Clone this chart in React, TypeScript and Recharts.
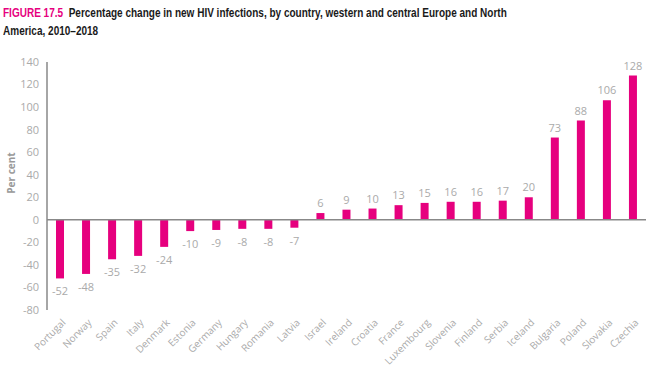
import React from "react";
import { BarChart, Bar, XAxis, YAxis, ReferenceLine, LabelList } from "recharts";

const countries = ["Portugal","Norway","Spain","Italy","Denmark","Estonia","Germany","Hungary","Romania","Latvia","Israel","Ireland","Croatia","France","Luxembourg","Slovenia","Finland","Serbia","Iceland","Bulgaria","Poland","Slovakia","Czechia"];
const changes = [-52,-48,-35,-32,-24,-10,-9,-8,-8,-7,6,9,10,13,15,16,16,17,20,73,88,106,128];
const yTicks = [-80,-60,-40,-20,0,20,40,60,80,100,120,140];

const data = countries.map((c, i) => ({ country: c, value: changes[i] }));

const PINK = "#E6007E";
const GRAY = "#aaaaaa";

const ValueLabel = (props: any) => {
  const { x, y, width, height, value } = props;
  const cx = x + width / 2;
  const top = Math.min(y, y + height);
  const bottom = Math.max(y, y + height);
  if (value >= 0) {
    return <text x={cx} y={top - 6} textAnchor="middle" fill={GRAY} fontSize={11} fontFamily="Open Sans">{value}</text>;
  }
  return <text x={cx} y={bottom + 17} textAnchor="middle" fill={GRAY} fontSize={11} fontFamily="Open Sans">{value}</text>;
};

const XTick = (props: any) => {
  const { x, y, payload } = props;
  return (
    <g transform={`translate(${x + 2},${y + 1})`}>
      <text x={0} y={0} dy={6} textAnchor="end" fill={GRAY} fontSize={10} fontFamily="Open Sans" transform="rotate(-45)">{payload.value}</text>
    </g>
  );
};

const titleLine: React.CSSProperties = {
  whiteSpace: "nowrap",
  position: "absolute",
  left: 0,
  transform: "scaleX(0.77)",
  transformOrigin: "0 0",
};

export default function App() {
  return (
    <div style={{ position: "absolute", left: 0, top: 0, width: 657, height: 368, background: "#fff", fontFamily: "Open Sans", overflow: "hidden" }}>
      <div style={{ position: "absolute", left: 3, top: 4, fontSize: 13, fontWeight: 700, lineHeight: "18px", color: "#1a1a1a", fontFamily: "'Liberation Sans', Arial, sans-serif" }}>
        <div style={{ ...titleLine, top: 0 }}>
          <span style={{ color: PINK }}>FIGURE 17.5</span>{"\u00a0 "}Percentage change in new HIV infections, by country, western and central Europe and North
        </div>
        <div style={{ ...titleLine, top: 18 }}>America, 2010–2018</div>
      </div>
      <div style={{ position: "absolute", left: -14, top: 166, width: 50, textAlign: "center", transform: "rotate(-90deg)", fontSize: 10, fontWeight: 700, color: "#999", fontFamily: "Open Sans" }}>Per cent</div>
      <div style={{ position: "absolute", left: 0, top: 0 }}>
        <BarChart width={657} height={368} data={data} margin={{ top: 62, right: 11, left: 0, bottom: 0 }} barCategoryGap={0}>
          <YAxis
            width={47}
            domain={[-80, 140]}
            ticks={yTicks}
            interval={0}
            tickLine={false}
            axisLine={{ stroke: "#888", strokeWidth: 1.5 }}
            tick={{ fill: GRAY, fontSize: 11, fontFamily: "Open Sans" }}
            tickMargin={2}
          />
          <XAxis dataKey="country" height={58} axisLine={false} tickLine={false} interval={0} tick={<XTick />} />
          <ReferenceLine y={0} stroke="#888" strokeWidth={1.5} />
          <Bar dataKey="value" fill={PINK} barSize={8} isAnimationActive={false}>
            <LabelList dataKey="value" content={<ValueLabel />} />
          </Bar>
        </BarChart>
      </div>
    </div>
  );
}
